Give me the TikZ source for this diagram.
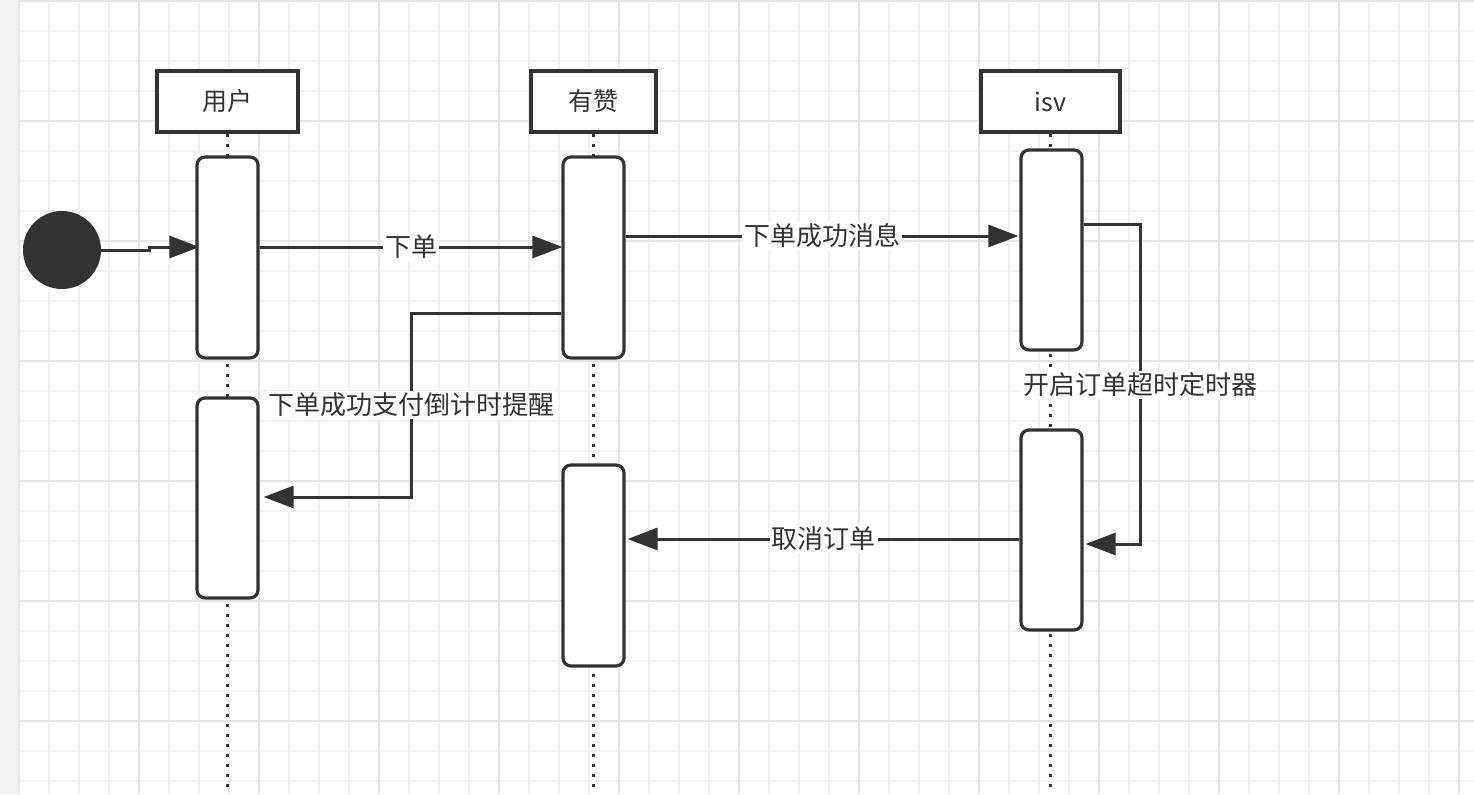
\documentclass[tikz,border=0pt]{standalone}
\usepackage{fontspec}
\setmainfont{Noto Sans CJK SC}
\usetikzlibrary{arrows.meta,calc}
\definecolor{InkGray}{RGB}{51,51,51}
\definecolor{GridMinor}{RGB}{241,241,241}
\definecolor{GridMajor}{RGB}{230,230,230}
\definecolor{SideGray}{RGB}{242,242,242}

\begin{document}
\begin{tikzpicture}[
  x=0.5pt,y=-0.5pt,
  actor/.style={
    draw=InkGray,line width=2pt,fill=white,
    minimum width=#1,minimum height=30.5pt,inner sep=0pt,
    font=\fontsize{12.5}{14}\selectfont,text=InkGray
  },
  act/.style={
    draw=InkGray,line width=1.6pt,fill=white,rounded corners=4pt,
    minimum width=30.5pt,minimum height=#1,inner sep=0pt
  },
  life/.style={InkGray,line width=1.5pt,dash pattern=on 1.5pt off 3.5pt},
  msg/.style={-{Triangle[length=15pt,width=11pt]},line width=1.5pt,InkGray},
  lbl/.style={fill=white,inner sep=1pt,text=InkGray,font=\fontsize{13}{15}\selectfont},
  gridminor/.style={GridMinor,line width=1pt},
  gridmajor/.style={GridMajor,line width=1pt}
]
  \useasboundingbox (0,0) rectangle (1474,794);
  % background grid
  \fill[white] (0,0) rectangle (1474,794);
  \fill[SideGray] (0,0) rectangle (19,794);
  \foreach \gx in {19,49,...,1474} \draw[gridminor] (\gx,0) -- (\gx,794);
  \foreach \gy in {1,31,...,794} \draw[gridminor] (19,\gy) -- (1474,\gy);
  \foreach \gx in {19,139,...,1474} \draw[gridmajor] (\gx,0) -- (\gx,794);
  \foreach \gy in {1,121,...,794} \draw[gridmajor] (19,\gy) -- (1474,\gy);

  % participants
  \node[actor=70.5pt] (user) at (227.5,101.5) {用户};
  \node[actor=62.5pt] (yz) at (593.5,101.5) {有赞};
  \node[actor=69.5pt] (isv) at (1050.5,101.5) {isv};

  % lifelines
  \draw[life] (user.south) -- (user.south |- 0,794);
  \draw[life] (yz.south) -- (yz.south |- 0,794);
  \draw[life] (isv.south) -- (isv.south |- 0,794);

  % activations
  \node[act=100.5pt] (ua1) at (227.5,257.5) {};
  \node[act=100pt] (ua2) at (227.5,498) {};
  \node[act=100.5pt] (ya1) at (593.5,257.5) {};
  \node[act=100.5pt] (ya2) at (593.5,565.5) {};
  \node[act=100pt] (ia1) at (1051.5,250) {};
  \node[act=100pt] (ia2) at (1051.5,530) {};

  % start
  \node[circle,fill=InkGray,minimum size=39pt,inner sep=0pt] (start) at (62,250) {};

  % messages
  \coordinate (bend) at (411,405);
  \coordinate (loop) at (1140,385);
  \draw[msg] (start.east) -- ++(48,0) |- ([xshift=2pt]ua1.west |- 0,247);
  \draw[msg] (ua1.east |- 0,247) -- ([xshift=0.5pt]ya1.west |- 0,247)
    node[lbl,midway] {下单};
  \draw[msg] (ya1.east |- 0,236) -- ([xshift=-0.5pt]ia1.west |- 0,236)
    node[lbl,midway] {下单成功消息};
  \draw[msg] (ya1.west |- 0,313) -| (bend) |- ([xshift=2pt]ua2.east |- 0,497);
  \node[lbl] at (bend) {下单成功支付倒计时提醒};
  \draw[msg] (ia1.east |- 0,224) -| (loop) |- ([xshift=1pt]ia2.east |- 0,544);
  \node[lbl] at (loop) {开启订单超时定时器};
  \draw[msg] (ia2.west |- 0,539) -- ([xshift=1pt]ya2.east |- 0,539)
    node[lbl,midway] {取消订单};
\end{tikzpicture}
\end{document}
